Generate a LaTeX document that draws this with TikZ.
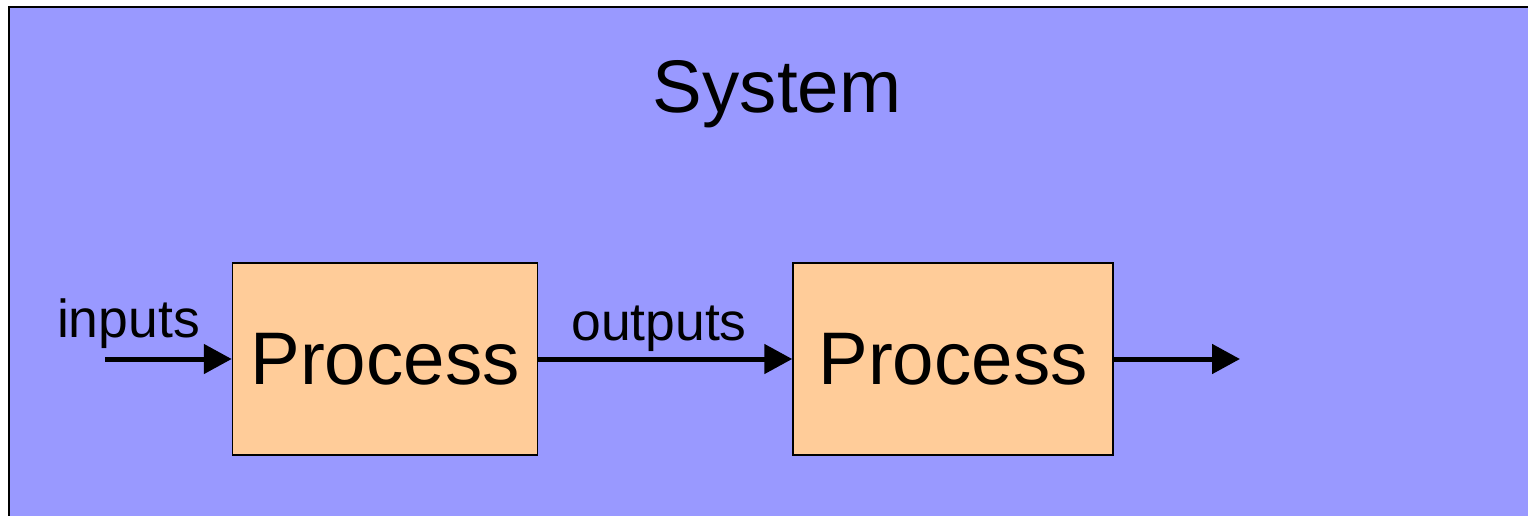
\documentclass[tikz,border=0pt]{standalone}
\usepackage{fontspec}
\setmainfont{Liberation Sans}
\usetikzlibrary{arrows.meta}
\definecolor{sysbg}{HTML}{9999FF}
\definecolor{procbg}{HTML}{FFCC99}
\tikzset{
  procbox/.style={draw=black, line width=1.5pt, fill=procbg, minimum width=305pt, minimum height=192pt, inner sep=0pt, font=\fontsize{74.5}{80}\selectfont},
  flow/.style={line width=5pt, -{Triangle[length=28pt,width=29pt]}},
  lbl/.style={inner sep=0pt, anchor=base, font=\fontsize{53.5}{58}\selectfont},
}
\begin{document}
\begin{tikzpicture}[x=1pt,y=-1pt]
\useasboundingbox (0,0) rectangle (1528,515);
\fill[white] (0,0) rectangle (1528,515);
\draw[line width=2.5pt, fill=sysbg] (9,7) rectangle (1545,540);
\node[inner sep=0pt, anchor=base, font=\fontsize{74.5}{80}\selectfont] (sys) at (777,112) {System};
\node[procbox] (p1) at (385,359) {Process};
\node[procbox, minimum width=320pt] (p2) at (953,359) {Process};
\coordinate (in) at (105,359);
\coordinate (out) at (1240,359);
\draw[flow] (in) -- (p1.west);
\draw[flow] (p1.east) -- (p2.west);
\draw[flow] (p2.east) -- (out);
\node[lbl] (linputs) at (128.5,337) {inputs};
\node[lbl] (loutputs) at (659,340) {outputs};
\end{tikzpicture}
\end{document}
